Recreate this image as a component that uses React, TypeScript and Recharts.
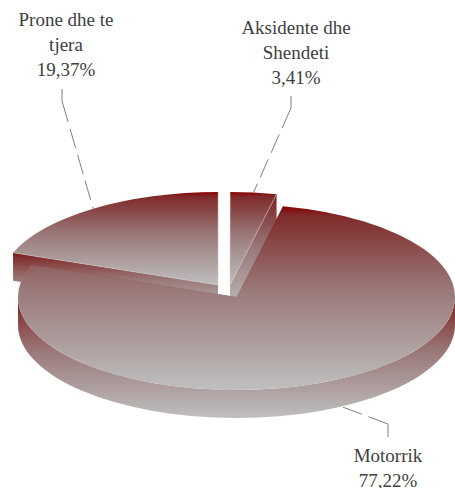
import { PieChart, Pie } from "recharts";

// drawn in this order so that Motorrik ends up on top of the other two
const names = ["Prone dhe te tjera", "Aksidente dhe Shendeti", "Motorrik"];
const shares = [19.37, 3.41, 77.22];
const labelLines = [
  ["Prone dhe te", "tjera"],
  ["Aksidente dhe", "Shendeti"],
  ["Motorrik"],
];

const data = names.map((name, i) => ({ name, value: shares[i] }));

const TILT = 93 / 218.5;
const DEPTH = 28;
const RX = 218.5;
const CX = 236.5;
const CY = 297;
const FIRST_ANGLE = 159.7;

const explode = [
  { dx: -18.5, dy: -12 },
  { dx: -6.5, dy: -12 },
  { dx: 0, dy: 0 },
];
const labelPos = [
  { x: 66, y: 26, lineX: 62, lineY: 89, elbowY: 101 },
  { x: 296, y: 34, lineX: 291, lineY: 96, elbowY: 108 },
  { x: 388, y: 462, lineX: 388, lineY: 437, elbowY: 424 },
];

const RAD = Math.PI / 180;

function pt(cx: number, cy: number, r: number, deg: number) {
  return { x: cx + r * Math.cos(deg * RAD), y: cy - r * TILT * Math.sin(deg * RAD) };
}

function PieSlice(props: any) {
  const { outerRadius: r, startAngle, endAngle, index } = props;
  const cx = props.cx + explode[index].dx;
  const cy = props.cy + explode[index].dy;
  const ry = r * TILT;
  const a = pt(cx, cy, r, startAngle);
  const b = pt(cx, cy, r, endAngle);
  const large = Math.abs(startAngle - endAngle) > 180 ? 1 : 0;
  const face = `M${cx},${cy} L${a.x},${a.y} A${r},${ry} 0 ${large} 1 ${b.x},${b.y} Z`;

  const radialWall = (p: { x: number; y: number }) =>
    `M${cx},${cy} L${p.x},${p.y} L${p.x},${p.y + DEPTH} L${cx},${cy + DEPTH} Z`;

  // the rim only shows on the front half of the ellipse
  const rims: string[] = [];
  for (let k = -1; k <= 1; k++) {
    const hi = Math.min(startAngle, 360 * k);
    const lo = Math.max(endAngle, 360 * k - 180);
    if (lo < hi) {
      const p = pt(cx, cy, r, hi);
      const q = pt(cx, cy, r, lo);
      rims.push(
        `M${p.x},${p.y} A${r},${ry} 0 0 1 ${q.x},${q.y} L${q.x},${q.y + DEPTH} A${r},${ry} 0 0 0 ${p.x},${p.y + DEPTH} Z`
      );
    }
  }

  return (
    <g>
      <path d={radialWall(a)} fill="url(#sliceFill)" />
      <path d={radialWall(b)} fill="url(#sliceFill)" />
      {rims.map((d) => (
        <path key={d} d={d} fill="url(#sliceFill)" />
      ))}
      <path d={face} fill="url(#sliceFill)" />
      {explode[index].dy !== 0 && (
        <path
          d={`M${a.x},${a.y} L${cx},${cy} L${b.x},${b.y}`}
          fill="none"
          stroke="#cfc6c6"
          strokeWidth={0.5}
        />
      )}
    </g>
  );
}

function SliceLabel(props: any) {
  const { index, midAngle, cx, cy, outerRadius } = props;
  const pos = labelPos[index];
  const end = pt(cx + explode[index].dx, cy + explode[index].dy, outerRadius, midAngle);
  const endY = Math.sin(midAngle * RAD) < 0 ? end.y + DEPTH : end.y;
  const lines = [...labelLines[index], shares[index].toFixed(2).replace(".", ",") + "%"];
  return (
    <g>
      <polyline
        points={`${pos.lineX},${pos.lineY} ${pos.lineX},${pos.elbowY} ${end.x},${endY}`}
        fill="none"
        stroke="#808080"
        strokeWidth={1}
        strokeDasharray="34 7 20 7 20 7 20 7"
      />
      <text
        x={pos.x}
        y={pos.y}
        textAnchor="middle"
        fontFamily="'Liberation Serif'"
        fontSize={19}
        fill="#404040"
      >
        {lines.map((line, i) => (
          <tspan key={line} x={pos.x} y={pos.y + i * 25}>
            {line}
          </tspan>
        ))}
      </text>
    </g>
  );
}

export default function App() {
  return (
    <div style={{ position: "absolute", left: 0, top: 0, width: 455, height: 488, overflow: "hidden", background: "#fff" }}>
      <PieChart width={455} height={488} margin={{ top: 0, right: 0, bottom: 0, left: 0 }}>
        <defs>
          <linearGradient id="sliceFill" x1="0" y1="0" x2="0" y2="1">
            <stop offset="0" stopColor="#8a0000" />
            <stop offset="0.05" stopColor="#7f2a2a" />
            <stop offset="0.45" stopColor="#9a7878" />
            <stop offset="1" stopColor="#bfbfbf" />
          </linearGradient>
        </defs>
        <Pie
          data={data}
          dataKey="value"
          nameKey="name"
          cx={CX}
          cy={CY}
          innerRadius={0}
          outerRadius={RX}
          startAngle={FIRST_ANGLE}
          endAngle={FIRST_ANGLE - 360}
          stroke="none"
          shape={PieSlice}
          label={SliceLabel}
          labelLine={false}
          isAnimationActive={false}
        />
      </PieChart>
    </div>
  );
}
